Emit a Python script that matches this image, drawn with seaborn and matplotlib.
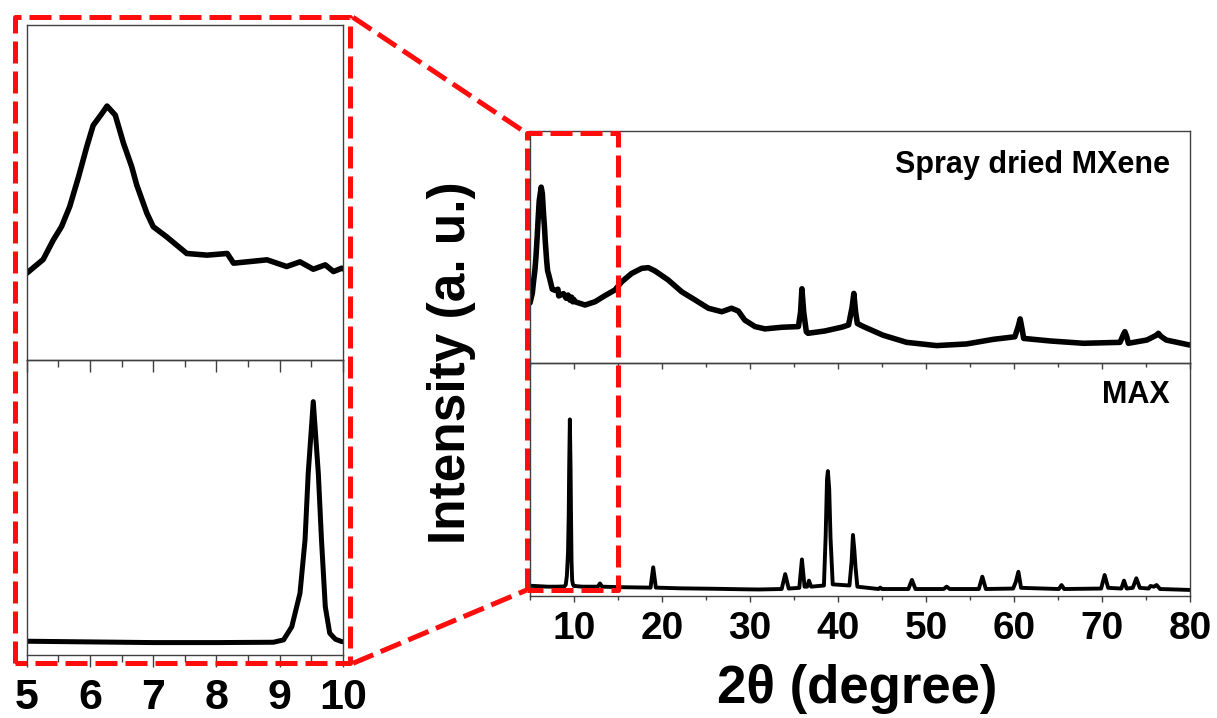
import matplotlib
matplotlib.use("Agg")
import matplotlib.pyplot as plt
import numpy as np
import pandas as pd
import seaborn as sns
from matplotlib.lines import Line2D
from matplotlib.ticker import MultipleLocator

# XRD pattern of the spray dried MXene (2θ in degrees, intensity in a.u.)
two_theta_mxene = [
    5.00, 5.26, 5.42, 5.55, 5.68, 5.82, 5.95, 6.05, 6.19, 6.27, 6.40, 6.53,
    6.66, 6.74, 6.90, 7.00, 7.21, 7.53, 7.85, 8.17, 8.27, 8.80, 9.11, 9.32,
    9.53, 9.72, 9.85, 9.98, 10.11, 11.25, 12.39, 13.5, 14.66, 15.42, 16.55,
    17.69, 18.45, 19.2, 20.7, 22.24, 23.75, 25.27, 26.8, 27.9, 28.67, 29.4,
    30.57, 31.7, 33.6, 35.5, 35.75, 35.9, 36.1, 36.4, 36.6, 38.5, 40.5, 41.2,
    41.6, 41.8, 42.0, 42.2, 42.9, 45.1, 47.8, 51.2, 54.6, 57.65, 60.1, 60.5,
    60.7, 60.9, 61.1, 64.1, 67.9, 72.05, 72.4, 72.6, 72.8, 73.0, 75.1, 76.2,
    76.4, 76.7, 77.3, 79.9, 80.0,
]
intensity_mxene = [
    0.259, 0.300, 0.358, 0.398, 0.458, 0.547, 0.637, 0.700, 0.736, 0.758, 0.731, 0.647,
    0.577, 0.522, 0.438, 0.398, 0.368, 0.318, 0.313, 0.318, 0.289, 0.299, 0.279, 0.293,
    0.271, 0.284, 0.264, 0.274, 0.264, 0.250, 0.264, 0.290, 0.315, 0.350, 0.386,
    0.408, 0.411, 0.397, 0.358, 0.307, 0.272, 0.236, 0.221, 0.236, 0.224, 0.185,
    0.157, 0.147, 0.154, 0.157, 0.220, 0.320, 0.220, 0.135, 0.128, 0.138, 0.155, 0.164,
    0.240, 0.300, 0.220, 0.170, 0.157, 0.120, 0.089, 0.075, 0.082, 0.102, 0.113, 0.160,
    0.190, 0.150, 0.106, 0.095, 0.085, 0.089, 0.120, 0.135, 0.115, 0.085, 0.099, 0.120,
    0.128, 0.115, 0.099, 0.078, 0.078,
]

# XRD pattern of the parent MAX phase
two_theta_max = [
    5.0, 6.0, 7.0, 8.0, 8.9, 9.06, 9.19, 9.32, 9.40, 9.45, 9.53, 9.61, 9.66, 9.72,
    9.79, 9.88, 9.98, 11.0, 12.7, 12.95, 13.2, 15.0, 18.7, 19.0, 19.3, 22.0, 26.0,
    29.0, 31.0, 33.6, 34.0, 34.4, 35.6, 35.9, 36.2, 36.5, 36.7, 36.95, 38.4,
    38.6, 38.75, 38.85, 39.0, 39.15, 39.4, 41.3, 41.55, 41.7, 41.85, 42.0, 42.2,
    44.6, 44.8, 45.0, 48.0, 48.4, 48.8, 52.0, 52.35, 52.7, 56.0, 56.4, 56.8,
    59.9, 60.2, 60.5, 60.8, 65.1, 65.4, 65.7, 69.9, 70.3, 70.7, 72.2, 72.5,
    72.8, 73.5, 73.9, 74.3, 75.3, 75.5, 75.9, 76.2, 76.6, 80.0,
]
intensity_max = [
    0.044, 0.042, 0.040, 0.040, 0.041, 0.048, 0.087, 0.187, 0.346, 0.544, 0.758, 0.544, 0.346,
    0.147, 0.068, 0.050, 0.043, 0.040, 0.040, 0.054, 0.040, 0.038, 0.036, 0.123, 0.036, 0.033,
    0.031, 0.029, 0.028, 0.030, 0.094, 0.032, 0.035, 0.157, 0.040, 0.040, 0.066, 0.040, 0.045,
    0.260, 0.500, 0.536, 0.460, 0.250, 0.050, 0.045, 0.150, 0.262, 0.200, 0.120, 0.040,
    0.030, 0.036, 0.030, 0.030, 0.069, 0.030, 0.030, 0.040, 0.030, 0.030, 0.083, 0.030,
    0.032, 0.060, 0.104, 0.035, 0.030, 0.047, 0.030, 0.032, 0.090, 0.035, 0.032, 0.066,
    0.032, 0.035, 0.076, 0.035, 0.032, 0.043, 0.040, 0.047, 0.030, 0.026,
]

sample_labels = ["Spray dried MXene", "MAX"]
main_xticks = [10, 20, 30, 40, 50, 60, 70, 80]
inset_xticks = [5, 6, 7, 8, 9, 10]
main_xlim = (5, 80)
inset_xlim = (5, 10)
zoom_window = (5, 15)

sns.set_theme(style="ticks")
plt.rcParams["font.family"] = ["Liberation Sans", "DejaVu Sans"]
plt.rcParams["font.weight"] = "bold"
plt.rcParams["text.color"] = "black"

W, H = 1217, 718
fig = plt.figure(figsize=(W / 100, H / 100), dpi=100)


def px_axes(left, top, right, bottom):
    return fig.add_axes([left / W, 1 - bottom / H, (right - left) / W, (bottom - top) / H])


main_bot = px_axes(530, 363, 1190, 596)
main_top = px_axes(530, 131, 1190, 363)
ins_bot = px_axes(26.7, 360, 343, 655)
ins_top = px_axes(26.7, 25, 343, 360)
for upper in (main_top, ins_top):
    upper.set_zorder(3)

df_mx = pd.DataFrame({"two_theta": two_theta_mxene, "intensity": intensity_mxene})
df_max = pd.DataFrame({"two_theta": two_theta_max, "intensity": intensity_max})

spine_color = "#404040"


def style(ax, xlim, ylim, major, minor, show_labels, maj_len, min_len, pad, fsize):
    ax.set_xlim(*xlim)
    ax.set_ylim(*ylim)
    ax.set_xlabel("")
    ax.set_ylabel("")
    ax.set_yticks([])
    ax.set_xticks(major)
    ax.xaxis.set_minor_locator(MultipleLocator(minor))
    for s in ax.spines.values():
        s.set_visible(True)
        s.set_linewidth(1.0)
        s.set_color(spine_color)
    ax.tick_params(axis="x", which="major", direction="out", length=maj_len, width=1.0,
                   color=spine_color, pad=pad, labelsize=fsize, labelbottom=show_labels,
                   labelcolor="black")
    ax.tick_params(axis="x", which="minor", direction="out", length=min_len, width=1.0,
                   color=spine_color)
    for lab in ax.get_xticklabels():
        lab.set_fontweight("bold")
    ax.patch.set_alpha(0.0)


# main panels
sns.lineplot(data=df_mx, x="two_theta", y="intensity", ax=main_top, color="black",
             lw=4.0, estimator=None, sort=False)
sns.lineplot(data=df_max, x="two_theta", y="intensity", ax=main_bot, color="black",
             lw=2.8, estimator=None, sort=False)
style(main_top, main_xlim, (0, 1), main_xticks, 5, False, 4.5, 3.0, 6, 28)
style(main_bot, main_xlim, (0, 1), main_xticks, 5, True, 4.5, 3.0, 6, 28)

# zoomed panels
sns.lineplot(data=df_mx, x="two_theta", y="intensity", ax=ins_top, color="black",
             lw=4.0, estimator=None, sort=False)
sns.lineplot(data=df_max, x="two_theta", y="intensity", ax=ins_bot, color="black",
             lw=3.6, estimator=None, sort=False)
style(ins_top, inset_xlim, (0, 1), inset_xticks, 0.5, False, 8.5, 5.0, 8, 31)
style(ins_bot, inset_xlim, (0.003, 0.882), inset_xticks, 0.5, True, 8.5, 5.0, 8, 31)

main_top.text(0.970, 0.918, sample_labels[0], transform=main_top.transAxes,
              ha="right", va="top", fontsize=22, fontweight="bold", color="black")
main_bot.text(0.970, 0.927, sample_labels[1], transform=main_bot.transAxes,
              ha="right", va="top", fontsize=22, fontweight="bold", color="black")

fig.text(451.5 / W, 1 - 363 / H, "Intensity (a. u.)", rotation=90, ha="center",
         va="center", fontsize=37, fontweight="bold", color="black")
fig.text(857 / W, 1 - 703 / H, "2θ (degree)", ha="center", va="baseline",
         fontsize=38, fontweight="bold", color="black")

# red dashed frames and connectors (built in display pixels)
fig.canvas.draw()
to_fig = fig.transFigure.inverted()
red = "#ff0d0d"
dash = (0, (4.4, 1.6))
red_lw = 3.6


def draw_red(points):
    pts = to_fig.transform(np.array(points, dtype=float))
    ln = Line2D(pts[:, 0], pts[:, 1], transform=fig.transFigure, color=red, lw=red_lw,
                linestyle=dash, solid_capstyle="butt", dash_capstyle="butt", zorder=10)
    fig.add_artist(ln)


# zoom window on the main plot
x0 = main_bot.transData.transform((zoom_window[0], 0))[0] - 3.3
x1 = main_bot.transData.transform((zoom_window[1], 0))[0]
y_top = main_top.transAxes.transform((0, 1))[1] - 2.3
y_bot = main_bot.transAxes.transform((0, 0))[1] + 6
draw_red([(x0, y_bot), (x0, y_top), (x1, y_top), (x1, y_bot), (x0, y_bot)])

# frame around the zoomed panels
ix0 = ins_top.transAxes.transform((0, 0))[0] - 11.7
ix1 = ins_top.transAxes.transform((1, 0))[0] + 7
iy_top = ins_top.transAxes.transform((0, 1))[1] + 7.7
iy_bot = ins_bot.transAxes.transform((0, 0))[1] - 8.3
draw_red([(ix0, iy_bot), (ix0, iy_top), (ix1, iy_top), (ix1, iy_bot), (ix0, iy_bot)])

# connectors
draw_red([(ix1 + 3, iy_top), (x0, y_top)])
draw_red([(ix1 + 3, iy_bot), (x0, y_bot)])

fig.savefig("out.png", dpi=100, facecolor="white")
